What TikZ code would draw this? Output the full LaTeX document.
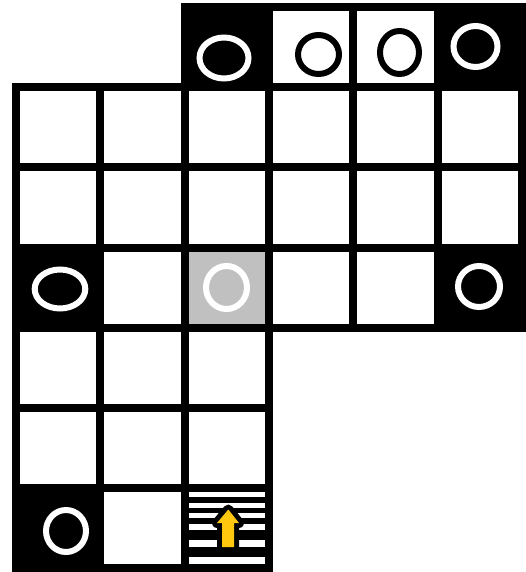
\documentclass[tikz,border=0pt]{standalone}
\usetikzlibrary{calc}
\definecolor{cellgray}{RGB}{192,192,192}
\definecolor{arrowyellow}{RGB}{255,200,15}
\tikzset{
  gridline/.style={draw=black,line width=8pt,line join=miter},
  whitering/.style={draw=white,line width=6pt},
  blackring/.style={draw=black,line width=6pt},
}
\newcommand\cx[1]{16+84.33*#1}
\newcommand\cy[1]{7+80.17*#1}
\begin{document}
\begin{tikzpicture}[x=1pt,y=-1pt]
\useasboundingbox (0,0) rectangle (526,572);
\fill[white] (0,0) rectangle (526,572);
\def\cells{2/0/black,3/0/white,4/0/white,5/0/black,
 0/1/white,1/1/white,2/1/white,3/1/white,4/1/white,5/1/white,
 0/2/white,1/2/white,2/2/white,3/2/white,4/2/white,5/2/white,
 0/3/black,1/3/white,2/3/cellgray,3/3/white,4/3/white,5/3/black,
 0/4/white,1/4/white,2/4/white,
 0/5/white,1/5/white,2/5/white,
 0/6/black,1/6/white,2/6/black}
% fills
\foreach \c/\r/\f in \cells {
  \fill[\f] ({\cx{\c}},{\cy{\r}}) rectangle ({\cx{(\c+1)}},{\cy{(\r+1)}});
}
% stairs stripes
\foreach \a/\b in {492/497,503/508,513/518,524/530,540/547,557/564} {
  \fill[white] (188,\a) rectangle (267,\b);
}
% grid lines
\foreach \c/\r/\f in \cells {
  \draw[gridline] ({\cx{\c}},{\cy{\r}}) rectangle ({\cx{(\c+1)}},{\cy{(\r+1)}});
}
% arrow
\draw[black,fill=black,line width=10pt,line join=round]
  (228.3,509.5) -- (239,523) -- (234,523) -- (234,547) -- (222,547) -- (222,523) -- (217,523) -- cycle;
\fill[arrowyellow]
  (228.3,509.5) -- (239,523) -- (234,523) -- (234,547) -- (222,547) -- (222,523) -- (217,523) -- cycle;
% rings
\draw[whitering] (224,58) ellipse [x radius=24.5pt, y radius=20.5pt];
\draw[blackring] (318.5,54.5) ellipse [x radius=20.5pt, y radius=19.5pt];
\draw[blackring] (399.5,52.5) ellipse [x radius=19.5pt, y radius=21.5pt];
\draw[whitering] (475.5,46.5) ellipse [x radius=22pt, y radius=20.5pt];
\draw[whitering] (60,289) ellipse [x radius=25.3pt, y radius=19.5pt];
\draw[whitering] (226.5,287.5) ellipse [x radius=20.5pt, y radius=21.5pt];
\draw[whitering] (479,286.5) ellipse [x radius=21pt, y radius=20.5pt];
\draw[whitering] (66,531) ellipse [x radius=20pt, y radius=21pt];
\end{tikzpicture}
\end{document}
